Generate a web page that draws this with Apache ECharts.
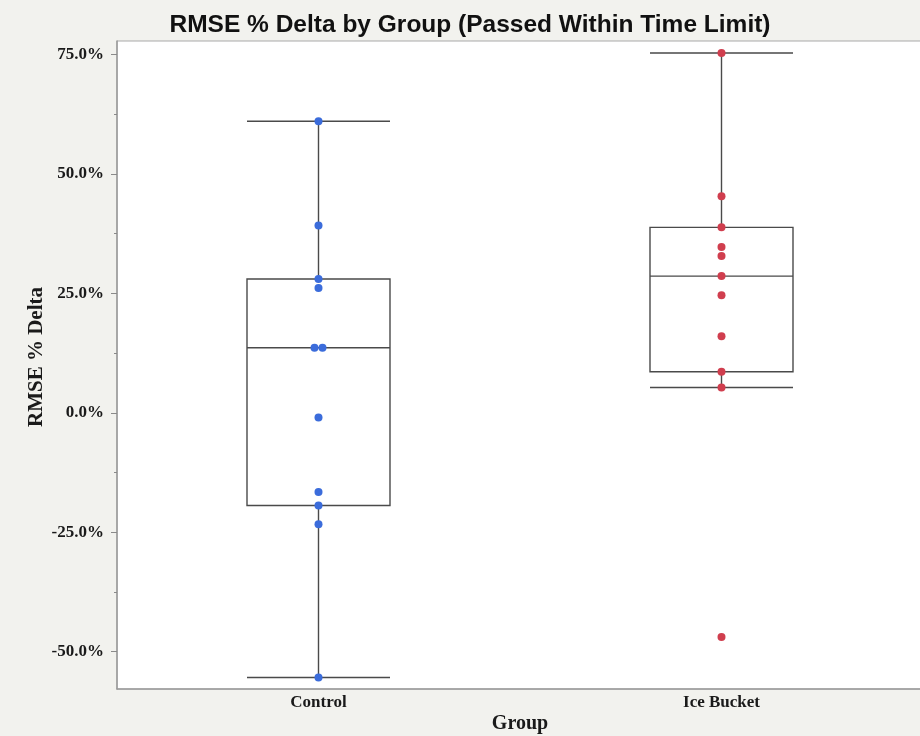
<!DOCTYPE html>
<html>
<head>
<meta charset="utf-8">
<script src="https://cdn.jsdelivr.net/npm/echarts@6/dist/echarts.min.js"></script>
<style>
  html, body { margin: 0; padding: 0; background: #f2f2ee; }
  #chart { width: 920px; height: 736px; }
</style>
</head>
<body>
<div id="chart"></div>
<script>
// Groups and per-run RMSE % deltas (percent)
const groups = ['Control', 'Ice Bucket'];
const controlValues = [61.0, 39.2, 28.0, 26.1, 13.6, 13.6, -1.0, -16.6, -19.4, -23.3, -55.4];
const iceBucketValues = [75.3, 45.3, 38.8, 34.7, 32.8, 28.6, 24.6, 16.0, 8.6, 5.3, -46.9];

// Axis ticks
const yTickValues = [-50, -25, 0, 25, 50, 75];
const yMinorTickValues = [-37.5, -12.5, 12.5, 37.5, 62.5];
const yMin = -57.8;
const yMax = 77.8;

const groupValues = [controlValues, iceBucketValues];
const groupColors = ['#3b6cdb', '#d03e4e'];

// Quantile with the (n + 1)p rule
function quantile(sorted, p) {
  const n = sorted.length;
  const pos = (n + 1) * p;
  const lo = Math.floor(pos);
  const frac = pos - lo;
  if (lo < 1) return sorted[0];
  if (lo >= n) return sorted[n - 1];
  return sorted[lo - 1] + frac * (sorted[lo] - sorted[lo - 1]);
}

function boxStats(values) {
  const s = values.slice().sort((a, b) => a - b);
  const q1 = quantile(s, 0.25);
  const med = quantile(s, 0.5);
  const q3 = quantile(s, 0.75);
  const iqr = q3 - q1;
  const lowFence = q1 - 1.5 * iqr;
  const highFence = q3 + 1.5 * iqr;
  const inside = s.filter(v => v >= lowFence && v <= highFence);
  return [inside[0], q1, med, q3, inside[inside.length - 1]];
}

const boxData = groupValues.map(boxStats);

// Points; tied values are set side by side
const scatterSeries = groupValues.map((vals, gi) => {
  const counts = {};
  vals.forEach(v => { counts[v] = (counts[v] || 0) + 1; });
  const seen = {};
  const data = vals.map(v => {
    const item = { value: [gi, v] };
    if (counts[v] > 1) {
      const k = seen[v] = (seen[v] || 0) + 1;
      item.symbolOffset = [(k - (counts[v] + 1) / 2) * 8, 0];
    }
    return item;
  });
  return {
    type: 'scatter',
    name: groups[gi],
    data: data,
    symbolSize: 8,
    z: 5,
    itemStyle: { color: groupColors[gi], opacity: 1 }
  };
});

const serifBold = {
  fontFamily: 'Liberation Serif, Times New Roman, serif',
  fontWeight: 'bold',
  color: '#1a1a1a'
};

const chart = echarts.init(document.getElementById('chart'), null, { renderer: 'canvas' });
chart.setOption({
  backgroundColor: '#f2f2ee',
  animation: false,
  graphic: [{
    type: 'text',
    x: 470,
    y: 25,
    style: {
      text: 'RMSE % Delta by Group (Passed Within Time Limit)',
      fontFamily: 'Liberation Sans, Arial, sans-serif',
      fontWeight: 'bold',
      fontSize: 24.5,
      fill: '#111',
      textAlign: 'center',
      textVerticalAlign: 'middle'
    }
  }],
  grid: {
    left: 117,
    top: 41,
    width: 806,
    height: 648,
    outerBoundsMode: 'none',
    containLabel: false,
    show: true,
    backgroundColor: '#ffffff',
    borderColor: '#a9a9a9',
    borderWidth: 1
  },
  xAxis: {
    type: 'category',
    data: groups,
    axisLine: { show: true, onZero: false, lineStyle: { color: '#9a9a9a', width: 1.5 } },
    axisTick: { show: false },
    axisLabel: Object.assign({ fontSize: 17, margin: 5 }, serifBold),
    splitLine: { show: false },
    name: 'Group',
    nameLocation: 'middle',
    nameGap: 25,
    nameMoveOverlap: false,
    nameTextStyle: Object.assign({ fontSize: 20 }, serifBold)
  },
  yAxis: [{
    type: 'value',
    min: yMin,
    max: yMax,
    axisLine: { show: true, lineStyle: { color: '#9a9a9a', width: 1.5 } },
    axisTick: { show: true, length: 6, customValues: yTickValues, lineStyle: { color: '#8a8a8a' } },
    axisLabel: Object.assign({
      fontSize: 17,
      margin: 13,
      customValues: yTickValues,
      formatter: v => v.toFixed(1) + '%'
    }, serifBold),
    splitLine: { show: false },
    name: 'RMSE % Delta',
    nameLocation: 'middle',
    nameGap: 70,
    nameMoveOverlap: false,
    nameTextStyle: Object.assign({ fontSize: 21, padding: [0, 0, 0, 16] }, serifBold)
  }, {
    type: 'value',
    min: yMin,
    max: yMax,
    position: 'left',
    axisLine: { show: false },
    axisTick: { show: true, length: 3, customValues: yMinorTickValues, lineStyle: { color: '#8a8a8a' } },
    axisLabel: { show: false },
    splitLine: { show: false }
  }],
  series: [{
    type: 'boxplot',
    data: boxData,
    boxWidth: [143, 143],
    z: 2,
    itemStyle: { color: '#ffffff', borderColor: '#4a4a4a', borderWidth: 1.4 },
    emphasis: { disabled: true }
  }].concat(scatterSeries)
});
</script>
</body>
</html>
